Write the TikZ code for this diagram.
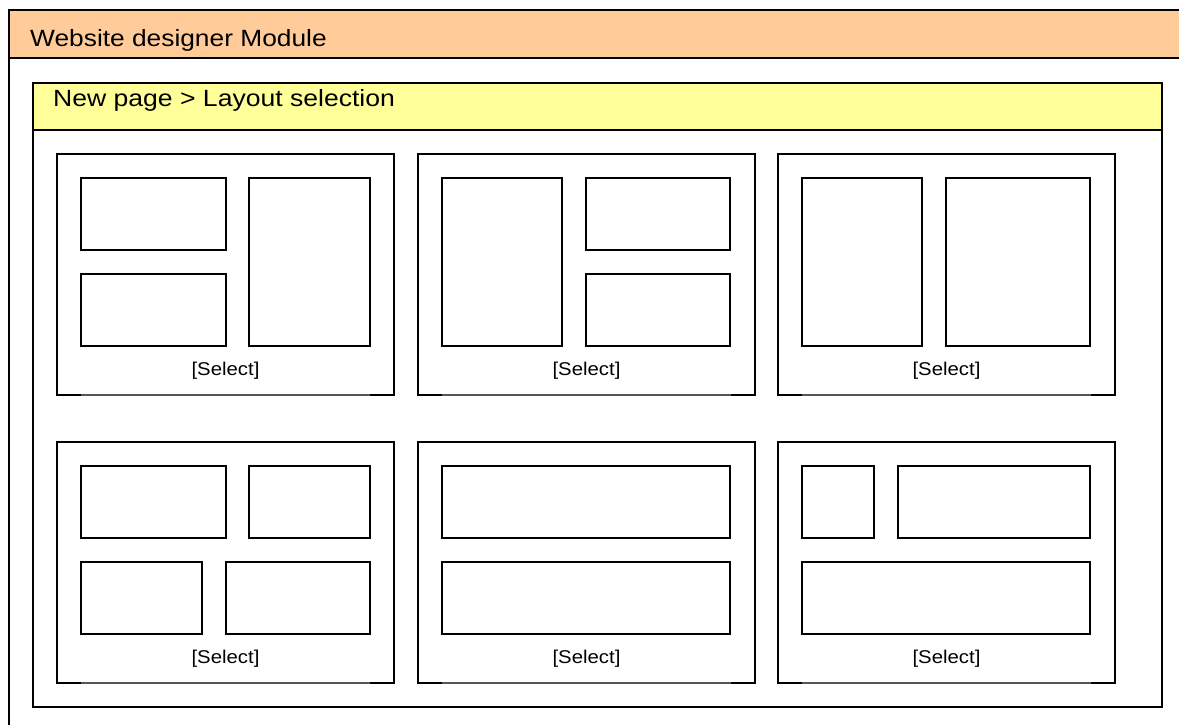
\documentclass[tikz,border=0pt]{standalone}
\usepackage{fontspec}
\usepackage{graphicx}
\setmainfont{Liberation Sans}
\definecolor{peach}{HTML}{FFCC99}
\definecolor{lemon}{HTML}{FFFF99}
\definecolor{thingray}{HTML}{555555}
\tikzset{
  frameline/.style={draw=black, line width=2pt},
  cardline/.style={draw=black, line width=2pt, line cap=rect},
  innerbox/.style={draw=black, line width=2pt},
  thinline/.style={draw=thingray, line width=1.2pt},
  titletext/.style={inner sep=0pt, anchor=base west, font=\fontsize{23.5}{28}\selectfont},
  seltext/.style={inner sep=0pt, anchor=base, font=\fontsize{18.5}{22}\selectfont}
}
\newcommand{\lcard}[3]{%
  \draw[cardline] (#1+24,#2+241) -- (#1,#2+241) -- (#1,#2) -- (#1+337,#2) -- (#1+337,#2+241) -- (#1+313,#2+241);
  \draw[thinline] (#1+24,#2+241) -- (#1+313,#2+241);
  \node[seltext] (#3) at (#1+168.5,#2+221) {\scalebox{1.1}[1]{[Select]}};
}
\begin{document}
\begin{tikzpicture}[x=1pt,y=-1pt]
\useasboundingbox (0,0) rectangle (1179,724);
\clip (0,0) rectangle (1179,724);
% outer module frame
\fill[peach] (9,10) rectangle (1185,58);
\draw[frameline] (9,730) -- (9,10) -- (1185,10);
\draw[frameline] (9,58) -- (1185,58);
\node[titletext] (modtitle) at (30,46) {\scalebox{1.12}[1]{Website designer Module}};
% panel
\fill[lemon] (33,83) rectangle (1162,130);
\draw[frameline] (33,83) rectangle (1162,707);
\draw[frameline] (33,130) -- (1162,130);
\node[titletext] (paneltitle) at (53,106) {\scalebox{1.13}[1]{New page > Layout selection}};
% cards
\lcard{57}{154}{sel1}
\lcard{418}{154}{sel2}
\lcard{778}{154}{sel3}
\lcard{57}{442}{sel4}
\lcard{418}{442}{sel5}
\lcard{778}{442}{sel6}
% card 1
\draw[innerbox] (81,178) rectangle (226,250);
\draw[innerbox] (81,274) rectangle (226,346);
\draw[innerbox] (249,178) rectangle (370,346);
% card 2
\draw[innerbox] (442,178) rectangle (562,346);
\draw[innerbox] (586,178) rectangle (730,250);
\draw[innerbox] (586,274) rectangle (730,346);
% card 3
\draw[innerbox] (802,178) rectangle (922,346);
\draw[innerbox] (946,178) rectangle (1090,346);
% card 4
\draw[innerbox] (81,466) rectangle (226,538);
\draw[innerbox] (249,466) rectangle (370,538);
\draw[innerbox] (81,562) rectangle (202,634);
\draw[innerbox] (226,562) rectangle (370,634);
% card 5
\draw[innerbox] (442,466) rectangle (730,538);
\draw[innerbox] (442,562) rectangle (730,634);
% card 6
\draw[innerbox] (802,466) rectangle (874,538);
\draw[innerbox] (898,466) rectangle (1090,538);
\draw[innerbox] (802,562) rectangle (1090,634);
\end{tikzpicture}
\end{document}
